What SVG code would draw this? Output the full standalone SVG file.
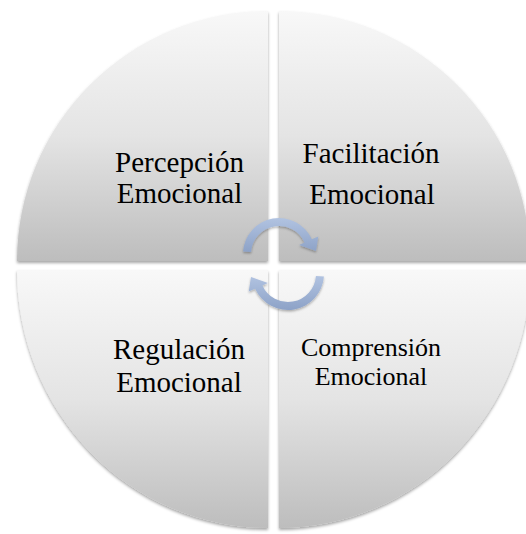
<svg xmlns="http://www.w3.org/2000/svg" width="526" height="534" viewBox="0 0 526 534">
<style>
.lbl{font-family:"Liberation Serif",Tinos,"Times New Roman",serif;fill:#000;text-anchor:middle}
.q{fill:url(#qg);filter:url(#sh)}
.arr{fill:url(#ag);filter:url(#ash)}
</style>
<defs>
<linearGradient id="qg" x1="0" y1="0" x2="0" y2="1">
<stop offset="0" stop-color="#f8f8f8"/>
<stop offset="0.5" stop-color="#e4e4e4"/>
<stop offset="1" stop-color="#bdbdbd"/>
</linearGradient>
<linearGradient id="ag" x1="0" y1="0" x2="0" y2="1">
<stop offset="0" stop-color="#b1c3e1"/>
<stop offset="1" stop-color="#8da2c7"/>
</linearGradient>
<filter id="sh" x="-10%" y="-10%" width="120%" height="125%">
<feDropShadow dx="0" dy="2" stdDeviation="1.6" flood-color="#000" flood-opacity="0.35"/>
</filter>
<filter id="ash" x="-20%" y="-20%" width="140%" height="150%">
<feDropShadow dx="0" dy="1.5" stdDeviation="1.2" flood-color="#000" flood-opacity="0.3"/>
</filter>
</defs>
<rect width="526" height="534" fill="#fff"/>
<g id="percepcion">
<path class="q" d="M268,261 L17,261 A251,250 0 0 1 268,11 Z"/>
<text class="lbl" font-family="Liberation Serif, serif" font-size="29"><tspan x="179.5" y="171.5">Percepción</tspan><tspan x="179.5" y="203">Emocional</tspan></text>
</g>
<g id="facilitacion">
<path class="q" d="M279,261 L279,11 A251,250 0 0 1 530,261 Z"/>
<text class="lbl" font-family="Liberation Serif, serif" font-size="29"><tspan x="371" y="163">Facilitación</tspan><tspan x="372" y="204">Emocional</tspan></text>
</g>
<g id="regulacion">
<path class="q" d="M268,270 L268,528 A251,258 0 0 1 17,270 Z"/>
<text class="lbl" font-family="Liberation Serif, serif" font-size="29"><tspan x="179" y="359">Regulación</tspan><tspan x="179" y="392">Emocional</tspan></text>
</g>
<g id="comprension">
<path class="q" d="M279,270 L530,270 A251,258 0 0 1 279,528 Z"/>
<text class="lbl" font-family="Liberation Serif, serif" font-size="26"><tspan x="371" y="356">Comprensión</tspan><tspan x="371" y="385">Emocional</tspan></text>
</g>
<g id="connectors">
<path class="arr" d="M243.09,251.49 A36,36 0 0 1 311.89,239.36 L318.28,236.51 L316,251 L299.10,245.05 L304.58,242.61 A28,28 0 0 0 251.07,252.05 Z"/>
<path class="arr" d="M323.91,276.51 A36,36 0 0 1 255.11,288.64 L248.72,291.49 L251,277 L267.90,282.95 L262.42,285.39 A28,28 0 0 0 315.93,275.95 Z"/>
</g>
</svg>
